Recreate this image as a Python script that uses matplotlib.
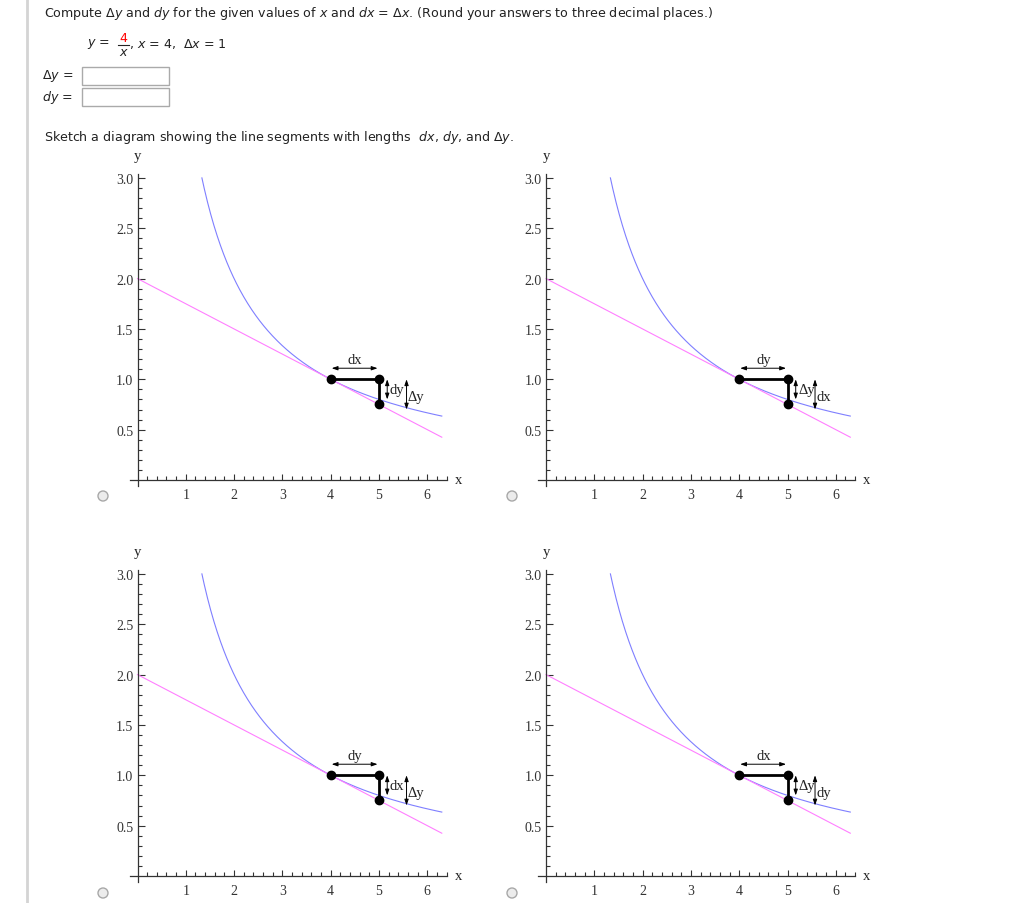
import numpy as np
import matplotlib.pyplot as plt
from matplotlib.patches import Rectangle, Circle
from matplotlib.lines import Line2D
from matplotlib.ticker import FixedLocator

plt.rcParams['mathtext.fontset'] = 'dejavusans'

W, H = 1022, 904

# function y = 4/x and its tangent at x = 4
x_at = 4
delta_x = 1
curve_x = np.linspace(4 / 3, 6.3, 300)
curve_y = 4 / curve_x
tan_x = [0, 6.3]
tan_y = [2 - t / 4 for t in tan_x]

seg_x = [4, 5, 5]
seg_y = [1.0, 1.0, 0.75]

x_ticks = [1, 2, 3, 4, 5, 6]
y_ticks = [0.5, 1.0, 1.5, 2.0, 2.5, 3.0]
x_minor = np.round(np.arange(0.2, 6.41, 0.2), 2)
y_minor = np.round(np.arange(0.1, 3.01, 0.1), 2)

# labels: horizontal arrow, short vertical arrow, long vertical arrow
panel_labels = [("dx", "dy", "Δy"),
                ("dy", "Δy", "dx"),
                ("dy", "dx", "Δy"),
                ("dx", "Δy", "dy")]
origins = [(137.5, 481), (546, 481), (137.5, 877), (546, 877)]
radios = [(103, 497), (512, 497), (103, 894), (512, 894)]

SX, SY = 48.3, 100.7

fig = plt.figure(figsize=(W / 100, H / 100), dpi=100)
px = fig.dpi_scale_trans


def ftxt(x, y, s, **kw):
    kw.setdefault('fontsize', 9.1)
    kw.setdefault('va', 'center')
    kw.setdefault('color', '#222222')
    fig.text(x / W, 1 - y / H, s, **kw)


# page furniture
fig.add_artist(Line2D([27 / W, 27 / W], [0, 1], color='#d4d4d4', lw=2))
ftxt(44, 13, r"Compute $\Delta y$ and $dy$ for the given values of $x$ and $dx$ = $\Delta x$. (Round your answers to three decimal places.)")
ftxt(110, 44, r"$y$ =", ha='right')
ftxt(123.5, 38, "4", color='red', ha='center')
fig.add_artist(Line2D([118 / W, 129 / W], [1 - 46 / H, 1 - 46 / H], color='#222222', lw=0.8))
ftxt(123.5, 53, r"$x$", ha='center')
ftxt(129, 44, r", $x$ = 4,  $\Delta x$ = 1")
ftxt(73, 76, r"$\Delta y$ =", ha='right')
ftxt(73, 98, r"$dy$ =", ha='right')
for top in (68, 89):
    fig.add_artist(Rectangle((82 / 100, (H - top - 18) / 100), 87 / 100, 18 / 100,
                             transform=px, fc='white', ec='#aaaaaa', lw=1))
ftxt(44, 138, r"Sketch a diagram showing the line segments with lengths  $dx$, $dy$, and $\Delta y$.")

for (ox, oy), labs, (rx, ry) in zip(origins, panel_labels, radios):
    L, R, T, B = ox - 40, ox + 345, oy - 335, oy + 26
    ax = fig.add_axes([L / W, 1 - B / H, (R - L) / W, (B - T) / H])
    ax.set_xlim((L - ox) / SX, (R - ox) / SX)
    ax.set_ylim((oy - B) / SY, (oy - T) / SY)
    ax.patch.set_visible(False)
    for s in ('top', 'right'):
        ax.spines[s].set_visible(False)
    ax.spines['left'].set_position(('data', 0))
    ax.spines['bottom'].set_position(('data', 0))
    ax.spines['left'].set_bounds(-0.06, 3.04)
    ax.spines['bottom'].set_bounds(-0.16, 6.4)
    for s in ('left', 'bottom'):
        ax.spines[s].set_linewidth(0.9)
        ax.spines[s].set_color('#333333')
    ax.set_xticks(x_ticks)
    ax.set_yticks(y_ticks)
    ax.set_yticklabels([f"{v:.1f}" for v in y_ticks])
    ax.xaxis.set_minor_locator(FixedLocator(x_minor))
    ax.yaxis.set_minor_locator(FixedLocator(y_minor))
    ax.tick_params(which='both', direction='in', color='#333333', width=0.8,
                   labelsize=10, labelcolor='#333333', labelfontfamily='Liberation Serif')
    ax.tick_params(axis='x', which='major', length=4, pad=6)
    ax.tick_params(axis='x', which='minor', length=3)
    ax.tick_params(axis='y', which='major', length=5, pad=3)
    ax.tick_params(axis='y', which='minor', length=3)

    ax.plot(curve_x, curve_y, color='#7f7fff', lw=0.8)
    ax.plot(tan_x, tan_y, color='#ff7fff', lw=0.8)
    ax.plot(seg_x, seg_y, color='black', lw=2, marker='o', ms=6, clip_on=False)

    aprops = dict(arrowstyle='<|-|>,head_length=0.35,head_width=0.12', color='black',
                  lw=0.7, shrinkA=0, shrinkB=0)
    ax.annotate('', xy=(4.02, 1.11), xytext=(4.97, 1.11), arrowprops=aprops)
    ax.annotate('', xy=(5.17, 1.0), xytext=(5.17, 0.80), arrowprops=aprops)
    ax.annotate('', xy=(5.57, 1.0), xytext=(5.57, 0.70), arrowprops=aprops)
    serif = dict(family='Liberation Serif', fontsize=10.5, color='#222222')
    ax.text(4.5, 1.2, labs[0], ha='center', va='center', **serif)
    ax.text(5.22, 0.9, labs[1], ha='left', va='center', **serif)
    ax.text(5.6, 0.83, labs[2], ha='left', va='center', **serif)
    ax.text(6.64, 0.0, 'x', ha='center', va='center', **serif)
    ax.text(0.0, 3.22, 'y', ha='center', va='center', **serif)

    fig.add_artist(Circle((rx / 100, (H - ry) / 100), 5 / 100, transform=px,
                          fc='#ececec', ec='#a8a8a8', lw=1))

fig.savefig('out.png', dpi=100)
